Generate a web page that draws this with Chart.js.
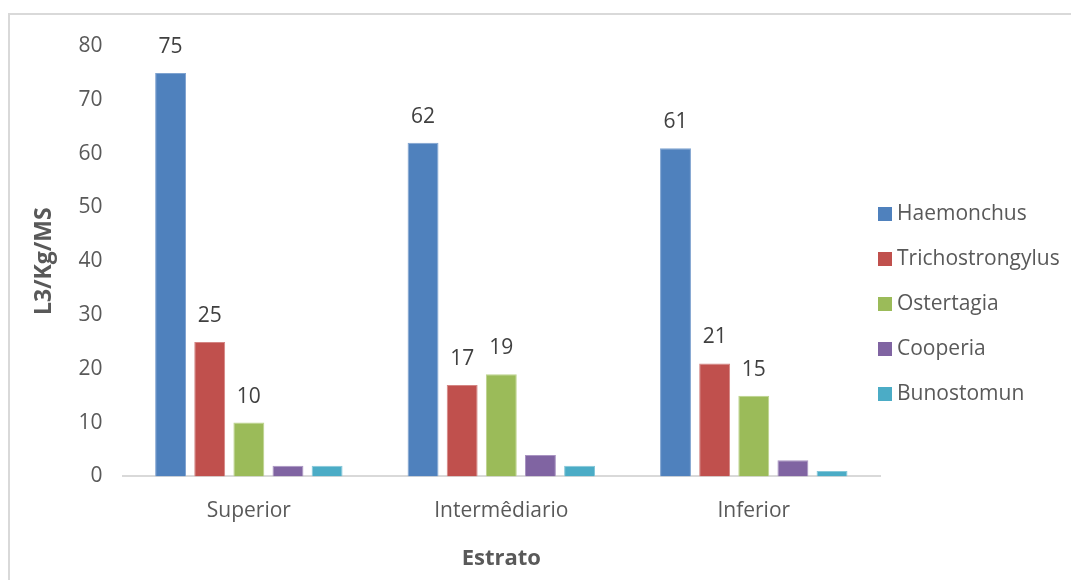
<!DOCTYPE html>
<html>
<head>
<meta charset="utf-8">
<script src="https://cdn.jsdelivr.net/npm/chart.js@4"></script>
<style>
    html, body { margin: 0; padding: 0; background: #fff; overflow: hidden; }
    #frame {
        position: absolute; left: 8px; top: 13px; width: 1200px; height: 700px;
        border: 2px solid #d9d9d9; box-sizing: border-box;
    }
    #wrap { position: absolute; left: 0; top: 0; width: 1071px; height: 580px; }
    #legend {
        position: absolute; left: 878px; top: 190px; margin: 0; padding: 0; list-style: none;
        font-family: "Open Sans", "Liberation Sans", sans-serif; font-size: 21px; color: #595959;
    }
    #legend li { height: 45px; line-height: 45px; white-space: nowrap; }
    #legend span {
        display: inline-block; width: 14px; height: 14px; margin-right: 5px; vertical-align: -1px;
    }
</style>
</head>
<body>
<div id="frame"></div>
<div id="wrap"><canvas id="chartEstrato" width="1071" height="580"></canvas></div>
<ul id="legend"></ul>
<script>
    const estratos = ["Superior", "Intermêdiario", "Inferior"];
    const haemonchus = [75, 62, 61];
    const trichostrongylus = [25, 17, 21];
    const ostertagia = [10, 19, 15];
    const cooperia = [2, 4, 3];
    const bunostomun = [2, 2, 1];
    const yTicks = [0, 10, 20, 30, 40, 50, 60, 70, 80];

    const fontFamily = '"Open Sans", "Liberation Sans", sans-serif';

    const series = [
        { label: "Haemonchus", data: haemonchus, color: "#4f81bd", edge: "#7fa3d0", showValue: true },
        { label: "Trichostrongylus", data: trichostrongylus, color: "#c0504d", edge: "#d48583", showValue: true },
        { label: "Ostertagia", data: ostertagia, color: "#9bbb59", edge: "#bcd38c", showValue: true },
        { label: "Cooperia", data: cooperia, color: "#8064a2", edge: "#a994c2", showValue: false },
        { label: "Bunostomun", data: bunostomun, color: "#4bacc6", edge: "#85c7d8", showValue: false },
    ];

    // value labels above the first three series
    const valueLabels = {
        id: "valueLabels",
        afterDatasetsDraw(chart) {
            const ctx = chart.ctx;
            ctx.save();
            ctx.font = "21px " + fontFamily;
            ctx.fillStyle = "#404040";
            ctx.textAlign = "center";
            ctx.textBaseline = "middle";
            chart.data.datasets.forEach((ds, i) => {
                if (!series[i].showValue) return;
                chart.getDatasetMeta(i).data.forEach((bar, j) => {
                    ctx.fillText(String(ds.data[j]), bar.x, bar.y - 26);
                });
            });
            ctx.restore();
        },
    };

    const canvas = document.getElementById("chartEstrato");
    new Chart(canvas, {
        type: "bar",
        data: {
            labels: estratos,
            datasets: series.map((s) => ({
                label: s.label,
                data: s.data,
                backgroundColor: s.color,
                borderColor: s.edge,
                borderWidth: 1,
                barPercentage: 0.79,
                categoryPercentage: 0.775,
            })),
        },
        options: {
            responsive: false,
            animation: false,
            layout: { padding: { left: 31, right: 191, top: 46, bottom: 8 } },
            plugins: {
                legend: { display: false },
                tooltip: { enabled: false },
            },
            scales: {
                x: {
                    grid: { display: false, drawTicks: false },
                    border: { display: true, color: "#d9d9d9", width: 2 },
                    ticks: { color: "#595959", font: { family: fontFamily, size: 21 }, padding: 22 },
                    title: {
                        display: true, text: "Estrato", color: "#595959",
                        font: { family: fontFamily, size: 22, weight: "bold" }, padding: { top: 0, bottom: 0 },
                    },
                },
                y: {
                    min: 0,
                    max: 80,
                    afterBuildTicks: (axis) => { axis.ticks = yTicks.map((v) => ({ value: v })); },
                    grid: { display: false, drawTicks: false },
                    border: { display: false },
                    ticks: { color: "#595959", font: { family: fontFamily, size: 21 }, padding: 20 },
                    title: {
                        display: true, text: "L3/Kg/MS", color: "#595959",
                        font: { family: fontFamily, size: 23, weight: "bold" }, padding: { top: 0, bottom: 0 },
                    },
                },
            },
        },
        plugins: [valueLabels],
    });

    const legend = document.getElementById("legend");
    series.forEach((s) => {
        const li = document.createElement("li");
        const box = document.createElement("span");
        box.style.background = s.color;
        li.appendChild(box);
        li.appendChild(document.createTextNode(s.label));
        legend.appendChild(li);
    });
</script>
</body>
</html>
